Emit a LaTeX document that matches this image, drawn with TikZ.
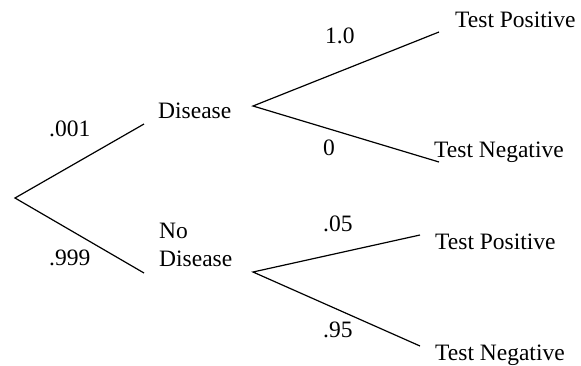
\documentclass[tikz,border=0pt]{standalone}
\usepackage{fontspec}
\setmainfont{Liberation Serif}
\begin{document}
\begin{tikzpicture}[x=1pt,y=-1pt,
  branch/.style={line width=1.2pt},
  lbl/.style={anchor=base west,inner sep=0pt,font=\fontsize{23.5}{28}\selectfont},
  every node/.style={}]
\useasboundingbox (0,0) rectangle (581,365);
% branch points
\coordinate (root) at (15,198);
\coordinate (d) at (144,124);
\coordinate (nd) at (144,273);
\coordinate (f1) at (253,106);
\coordinate (f1p) at (439,32);
\coordinate (f1n) at (439,162);
\coordinate (f2) at (253,272);
\coordinate (f2p) at (420,235);
\coordinate (f2n) at (420,346);
% connectors
\draw[branch] (d) -- (root) -- (nd);
\draw[branch] (f1p) -- (f1) -- (f1n);
\draw[branch] (f2p) -- (f2) -- (f2n);
% labels
\node[lbl] (dis) at (158,118) {Disease};
\node[lbl,align=left] (nodis) at (159,266) {No\\Disease};
\node[lbl] (p001) at (49,136) {.001};
\node[lbl] (p999) at (49,265) {.999};
\node[lbl] (p10) at (325,43) {1.0};
\node[lbl] (p0) at (323,155) {0};
\node[lbl] (tp1) at (455,27) {Test Positive};
\node[lbl] (tn1) at (434,157) {Test Negative};
\node[lbl] (p05) at (323,231) {.05};
\node[lbl] (p95) at (323,337) {.95};
\node[lbl] (tp2) at (435,249) {Test Positive};
\node[lbl] (tn2) at (435,360) {Test Negative};
\end{tikzpicture}
\end{document}
